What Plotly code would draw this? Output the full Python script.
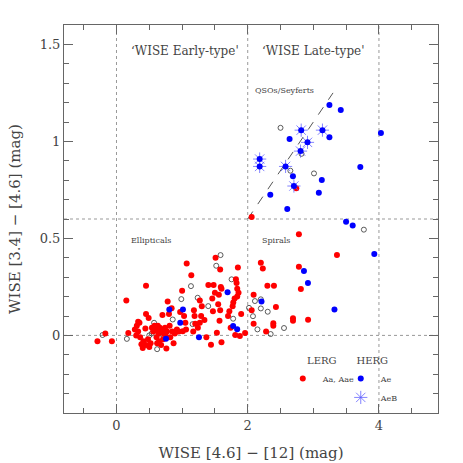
import plotly.graph_objects as go

# LERG (Aa, Aae) - red filled
red_x = [-0.29, -0.17, -0.07, 0.15, 0.18,
         0.28, 0.30, 0.31, 0.33, 0.35, 0.33, 0.36, 0.38, 0.40, 0.41, 0.44, 0.45, 0.49, 0.45, 0.48,
         0.50, 0.52, 0.54, 0.56, 0.58, 0.60, 0.61, 0.62, 0.63, 0.64, 0.65, 0.66, 0.67, 0.68, 0.70,
         0.71, 0.70, 0.72, 0.74, 0.75, 0.76, 0.77, 0.78, 0.80, 0.81, 0.82, 0.84, 0.85, 0.87, 0.89,
         0.92, 0.95, 0.97, 1.00, 1.01, 1.03, 1.05, 1.06, 1.07, 1.14, 1.18, 1.19, 1.20, 0.45,
         1.27, 1.30, 1.40, 1.48, 1.47, 1.46, 1.50, 1.51, 1.55, 1.56, 1.58, 1.59, 1.60, 1.58, 1.57,
         1.34, 1.27, 1.37, 1.44, 1.53, 1.60, 1.72, 1.70, 1.74, 1.78, 1.80, 1.82, 1.83, 1.84, 1.86,
         1.85, 1.84, 1.77, 1.90, 1.81, 1.88, 1.96, 1.29, 1.17, 1.24,
         2.06, 2.09, 2.06, 2.09, 2.20, 2.23, 2.30, 2.40, 2.43, 2.39, 2.39, 2.28, 2.69, 2.69, 2.92,
         2.78, 2.81, 2.78, 2.74, 3.36]
red_y = [-0.03, 0.01, -0.03, 0.18, 0.013,
         0.03, 0.00, 0.05, 0.07, 0.065, 0.02, -0.01, -0.045, -0.065, -0.03, 0.036, 0.11, 0.09, -0.05, -0.02,
         -0.06, -0.04, 0.04, 0.02, 0.05, 0.03, -0.01, -0.04, 0.05, 0.01, -0.03, 0.04, 0.02, -0.05, 0.03,
         -0.02, 0.105, 0.01, 0.04, -0.005, -0.067, 0.02, 0.175, 0.11, 0.05, -0.01, 0.14, 0.02, -0.04, 0.01,
         0.03, 0.02, 0.12, 0.23, 0.022, 0.10, 0.065, 0.03, 0.37, 0.31, 0.13, 0.10, 0.06, 0.256,
         0.18, 0.15, 0.26, 0.26, 0.125, 0.19, 0.22, 0.40, 0.16, 0.21, 0.34, 0.25, 0.24, 0.13, 0.075,
         0.08, 0.065, -0.01, -0.048, 0.014, -0.035, 0.125, 0.10, 0.04, 0.17, 0.19, 0.29, 0.27, 0.24, 0.22,
         0.35, 0.20, 0.15, 0.11, 0.002, -0.003, 0.012, 0.10, 0.02, 0.04,
         0.61, 0.21, 0.13, 0.06, 0.375, 0.345, 0.256, 0.256, 0.146, 0.062, 0.05, 0.02, 0.089, 0.075, 0.081,
         0.354, 0.239, 0.522, 0.758, 0.415]

# HERG Ae - blue filled
blue_x = [3.245, 3.418, 4.03, 2.638, 3.245, 3.716, 2.689, 3.129, 3.084, 2.344, 2.603, 3.499, 3.60,
          3.929, 2.857, 2.918, 3.322, 2.21, 1.693, 0.805, 1.013, 0.972, 1.257, 1.778, 1.839, 0.755]
blue_y = [1.187, 1.162, 1.043, 1.012, 1.022, 0.868, 0.82, 0.801, 0.735, 0.725, 0.651, 0.586, 0.567,
          0.419, 0.332, 0.27, 0.134, 0.175, 0.222, 0.134, 0.134, 0.065, -0.01, 0.048, 0.032, -0.017]

# HERG AeB - blue with starburst
aeb_x = [2.182, 2.182, 2.577, 2.815, 3.139, 2.911, 2.805, 2.704]
aeb_y = [0.909, 0.871, 0.871, 1.058, 1.058, 0.995, 0.950, 0.770]

# unclassified - open circles
open_x = [2.50, 2.82, 2.65, 3.01, 3.77, 1.586, 1.52, 1.135, 0.988, 1.237, 1.398, 1.754, 2.11, 2.20,
          2.02, 2.08, 2.20, 2.305, 2.148, 2.35, 2.553, 1.778, 0.857, 0.573, 0.538, 0.619, 0.66,
          0.158, -0.213, 1.16, 0.50]
open_y = [1.07, 0.936, 0.849, 0.835, 0.545, 0.414, 0.359, 0.254, 0.187, 0.194, 0.151, 0.289, 0.177, 0.186,
          0.142, 0.099, 0.139, 0.122, 0.031, 0.007, 0.038, 0.086, 0.082, 0.065, 0.01, -0.071, -0.015,
          -0.018, 0.002, 0.058, 0.0]

# dividing lines (Wright et al. regions)
divider_x = [0, 2, 4]
divider_y = [0, 0.6]
seyfert_x = [2.0, 3.3]
seyfert_y = [0.6, 1.25]

FONT = "DejaVu Serif"
TXT = "#444444"
AX = "#666666"

fig = go.Figure()

fig.add_trace(go.Scatter(x=open_x, y=open_y, mode="markers", showlegend=False,
                         marker=dict(symbol="circle-open", size=5, color="#333333", line=dict(width=0.8))))
fig.add_trace(go.Scatter(x=red_x, y=red_y, mode="markers", name="Aa, Aae",
                         legend="legend", legendgroup="lerg",
                         marker=dict(symbol="circle", size=6, color="#ff0000")))
fig.add_trace(go.Scatter(x=blue_x, y=blue_y, mode="markers", name="Ae",
                         legend="legend2",
                         marker=dict(symbol="circle", size=6, color="#0000ff")))
fig.add_trace(go.Scatter(x=aeb_x, y=aeb_y, mode="markers", name="AeB",
                         legend="legend2",
                         marker=dict(symbol="asterisk-open", size=11, color="rgba(90,90,255,0.75)",
                                     line=dict(width=1, color="rgba(90,90,255,0.75)"))))
fig.add_trace(go.Scatter(x=aeb_x, y=aeb_y, mode="markers", showlegend=False,
                         marker=dict(symbol="circle", size=6, color="#0000ff")))

for xv in divider_x:
    fig.add_shape(type="line", x0=xv, x1=xv, y0=0, y1=1, xref="x", yref="paper",
                  line=dict(color="#999999", width=1, dash="dot"), layer="below")
for yv in divider_y:
    fig.add_shape(type="line", x0=0, x1=1, y0=yv, y1=yv, xref="paper", yref="y",
                  line=dict(color="#999999", width=1, dash="dot"), layer="below")
fig.add_shape(type="line", x0=seyfert_x[0], x1=seyfert_x[1], y0=seyfert_y[0], y1=seyfert_y[1],
              line=dict(color="#555555", width=1, dash="dash"), layer="below")

labels = [
    ("\u2018WISE Early-type'", 1.04, 1.465, 12),
    ("\u2018WISE Late-type'", 3.0, 1.465, 12),
    ("QSOs/Seyferts", 2.56, 1.26, 8),
    ("Ellipticals", 0.53, 0.49, 8),
    ("Spirals", 2.43, 0.49, 8),
]
for text, lx, ly, fs in labels:
    fig.add_annotation(x=lx, y=ly, text=text, showarrow=False,
                       font=dict(family=FONT, size=fs, color=TXT))

axis_common = dict(
    showgrid=False, zeroline=False, showline=True, linecolor=AX, linewidth=1,
    mirror="allticks", ticks="inside", tickcolor=AX, ticklen=9, automargin=False,
    tickfont=dict(family=FONT, size=13, color=TXT),
)
fig.update_xaxes(range=[-0.8, 4.9], dtick=2, tick0=0,
                 minor=dict(dtick=0.5, ticks="inside", ticklen=5, tickcolor=AX),
                 title=dict(text="WISE [4.6] \u2212 [12] (mag)", font=dict(family=FONT, size=15, color=TXT)),
                 **axis_common)
fig.update_yaxes(range=[-0.4, 1.6], dtick=0.5, tick0=0,
                 minor=dict(dtick=0.1, ticks="inside", ticklen=5, tickcolor=AX),
                 title=dict(text="WISE [3.4] \u2212 [4.6] (mag)", font=dict(family=FONT, size=15, color=TXT)),
                 **axis_common)

legend_style = dict(font=dict(family=FONT, size=8, color=TXT), bgcolor="rgba(0,0,0,0)",
                    xanchor="left", yanchor="top", tracegroupgap=0)
fig.update_layout(
    width=463, height=463,
    margin=dict(l=64, r=25, t=25, b=50),
    plot_bgcolor="white", paper_bgcolor="white",
    legend=dict(x=0.585, y=0.16, title=dict(text="LERG", side="top center"), **legend_style),
    legend2=dict(x=0.74, y=0.16, title=dict(text="HERG", side="top center"), **legend_style),
)

fig.write_html("out.html", config={"displayModeBar": False},
               post_script="document.body.style.margin='0px';")
